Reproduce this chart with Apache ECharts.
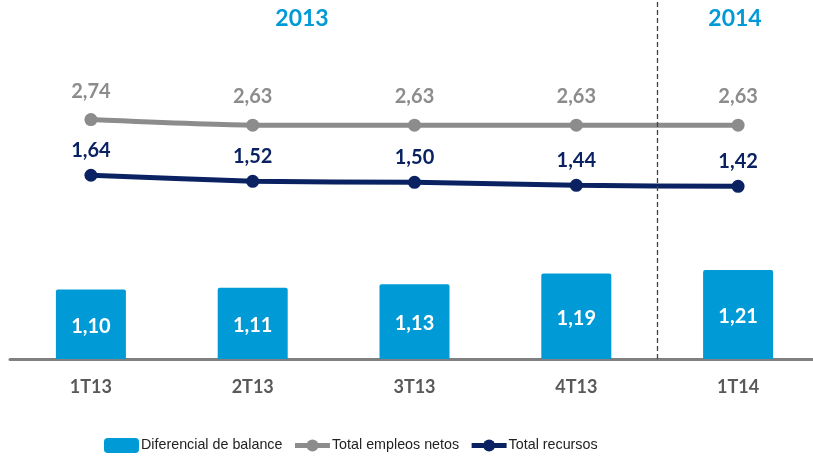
<!DOCTYPE html>
<html><head><meta charset="utf-8">
<script src="https://cdn.jsdelivr.net/npm/echarts@6/dist/echarts.min.js"></script>
<style>html,body{margin:0;padding:0;background:#fff;overflow:hidden}#c{width:830px;height:459px}</style>
</head><body><div id="c"></div>
<script>
const categories = ['1T13', '2T13', '3T13', '4T13', '1T14'];
const diferencial = [1.10, 1.11, 1.13, 1.19, 1.21];
const empleos = [2.74, 2.63, 2.63, 2.63, 2.63];
const recursos = [1.64, 1.52, 1.50, 1.44, 1.42];
const yearLabels = ['2013', '2014'];
const yearSplit = 3.5; // boundary between 4T13 and 1T14

const fmt = v => (typeof v === 'object' ? v.value : v).toFixed(2).replace('.', ',');
const FONT = 'Lato';
const chart = echarts.init(document.getElementById('c'));
chart.setOption({
  animation: false,
  grid: { left: 10, width: 809, top: 0, height: 359 },
  xAxis: [{
    type: 'category', data: categories,
    axisLine: { onZero: false, lineStyle: { color: '#808080', width: 3 } },
    axisTick: { show: false },
    axisLabel: { color: '#595959', fontFamily: FONT, fontWeight: 'bold', fontSize: 18, margin: 19 }
  }, {
    type: 'value', min: -0.5, max: 4.5, show: false
  }],
  yAxis: [
    { type: 'value', min: 0.71, max: 2.727, show: false },
    { type: 'value', min: -1.992, max: 5.103, show: false }
  ],
  legend: {
    left: 104, top: 438, padding: 0, itemWidth: 35, itemHeight: 15, itemGap: 10,
    lineStyle: { width: 5 },
    textStyle: { color: '#222', fontFamily: 'Liberation Sans', fontSize: 14.3, padding: [0, 0, 0, -3] },
    data: ['Diferencial de balance', 'Total empleos netos', 'Total recursos']
  },
  graphic: [
    { type: 'text', x: 302, y: 19, style: { text: yearLabels[0], align: 'center', verticalAlign: 'middle', fill: '#009AD7', font: 'bold 23px Lato' } },
    { type: 'text', x: 735, y: 19, style: { text: yearLabels[1], align: 'center', verticalAlign: 'middle', fill: '#009AD7', font: 'bold 23px Lato' } }
  ],
  series: [
    {
      name: 'Diferencial de balance', type: 'bar', data: diferencial, barWidth: 70,
      itemStyle: { color: '#009AD7', borderRadius: [2, 2, 0, 0] },
      label: { show: true, position: 'inside', offset: [0, 2], formatter: p => fmt(p.value),
        color: '#fff', fontFamily: FONT, fontWeight: 'bold', fontSize: 20 }
    },
    {
      name: 'Total empleos netos', type: 'line', yAxisIndex: 1, data: empleos, smooth: 0.2,
      symbol: 'circle', symbolSize: 13,
      lineStyle: { color: '#8C8C8C', width: 5 }, itemStyle: { color: '#8C8C8C' },
      label: { show: true, position: 'top', distance: 12, formatter: p => fmt(p.value),
        color: '#8C8C8C', fontFamily: FONT, fontWeight: 'bold', fontSize: 20 }
    },
    {
      name: 'Total recursos', type: 'line', yAxisIndex: 1, data: recursos, smooth: 0.2,
      symbol: 'circle', symbolSize: 13,
      lineStyle: { color: '#0A2261', width: 5 }, itemStyle: { color: '#0A2261' },
      label: { show: true, position: 'top', distance: 8, formatter: p => fmt(p.value),
        color: '#0A2261', fontFamily: FONT, fontWeight: 'bold', fontSize: 20 }
    },
    {
      name: 'sep', type: 'line', xAxisIndex: 1, yAxisIndex: 0, data: [], silent: true,
      markLine: {
        symbol: 'none', silent: true, label: { show: false },
        lineStyle: { color: '#404040', type: [5, 3], width: 1.3 },
        data: [{ xAxis: yearSplit }]
      }
    }
  ]
});
</script></body></html>
